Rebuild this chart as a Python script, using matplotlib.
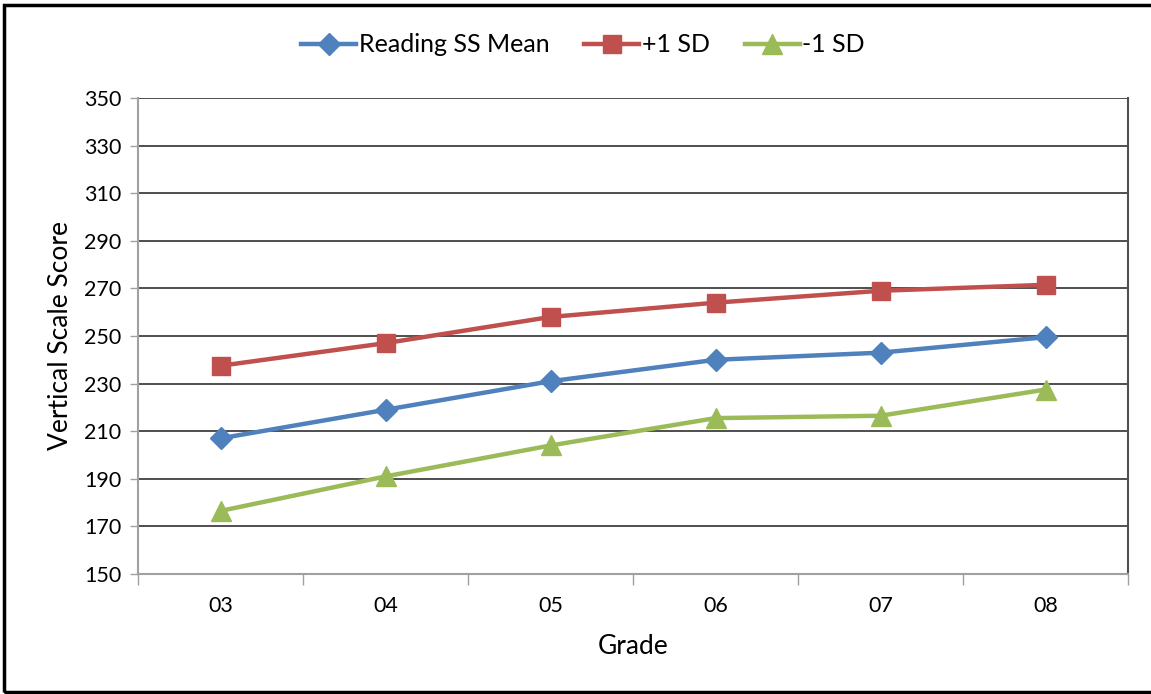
import matplotlib
matplotlib.use('Agg')
import matplotlib.pyplot as plt
from matplotlib.patches import Rectangle

plt.rcParams['font.family'] = ['Lato', 'DejaVu Sans']

grades = ['03', '04', '05', '06', '07', '08']
ss_mean = [207, 219, 231, 240, 243, 249.5]
plus_sd = [237.5, 247, 258, 264, 269, 271.5]
minus_sd = [176.5, 191, 204, 215.5, 216.5, 227.5]

fig = plt.figure(figsize=(11.51, 6.94), dpi=100)
ax = fig.add_axes([138 / 1151, 1 - 574 / 694, 990 / 1151, 476 / 694])

x = range(len(grades))
ax.plot(x, ss_mean, color='#4F81BD', lw=3.2, marker='D', ms=11, label='Reading SS Mean')
ax.plot(x, plus_sd, color='#C0504D', lw=3.2, marker='s', ms=13, label='+1 SD')
ax.plot(x, minus_sd, color='#9BBB59', lw=3.2, marker='^', ms=14, label='-1 SD')

ax.set_xlim(-0.5, 5.5)
ax.set_ylim(150, 350)
ax.set_yticks(range(150, 351, 20))
ax.set_xticks(list(x))
ax.set_xticklabels(grades)
ax.set_xticks([i - 0.5 for i in range(7)], minor=True)
ax.tick_params(axis='x', which='major', length=0, pad=16, labelsize=15.5)
ax.tick_params(axis='x', which='minor', length=8, color='#A0A0A0', width=1)
ax.tick_params(axis='y', length=6, color='#A0A0A0', width=1, pad=6, labelsize=15.5)
ax.yaxis.grid(True, color='#303030', lw=1.2)
ax.set_axisbelow(True)

for side in ['left', 'bottom']:
    ax.spines[side].set_color('#A0A0A0')
    ax.spines[side].set_linewidth(1.5)
ax.spines['top'].set_visible(False)
ax.spines['right'].set_color('#505050')
ax.spines['right'].set_linewidth(1.5)

ax.set_xlabel('Grade', fontsize=19, labelpad=13)
ax.set_ylabel('Vertical Scale Score', fontsize=19, labelpad=8)

fig.legend(loc='center', bbox_to_anchor=(583 / 1151, 1 - 45 / 694), ncol=3, frameon=False,
           fontsize=18, handlelength=2.2, handletextpad=0.1, columnspacing=1.4)

# outer frame
fig.patches.append(Rectangle((4 / 1151, 2 / 694), 1160 / 1151, 687 / 694, transform=fig.transFigure,
                             fill=False, edgecolor='black', lw=2.5))

fig.savefig('out.png', dpi=100)
